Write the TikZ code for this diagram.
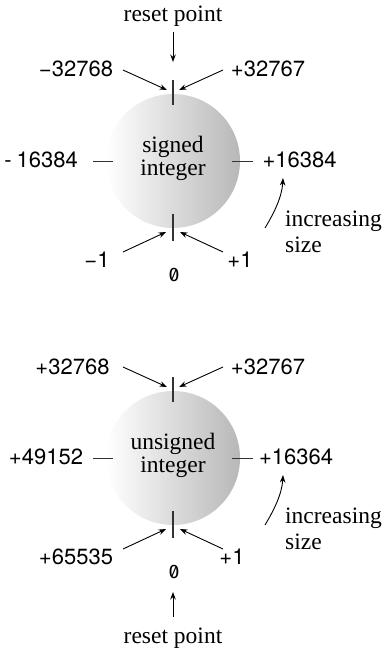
\documentclass[tikz,border=0pt]{standalone}
\usepackage{fontspec}
\setmainfont{Liberation Serif}
\setsansfont{TeX Gyre Heros}
\newfontfamily\zerofont[Numbers=SlashedZero]{Fira Sans}
\usetikzlibrary{arrows.meta}
\begin{document}
\begin{tikzpicture}[x=1pt,y=-1pt,
  lab/.style={font=\sffamily\fontsize{22}{22}\selectfont, inner sep=0pt, anchor=base},
  ser/.style={font=\rmfamily\fontsize{23.5}{23}\selectfont, inner sep=0pt, anchor=base},
  zer/.style={font=\zerofont\fontsize{19.5}{19.5}\selectfont, inner sep=0pt, anchor=base},
  arr/.style={-{Stealth[length=7.5pt,width=5.5pt]}, line width=0.9pt},
  tickline/.style={line width=1.8pt, draw=black!80},
  ball/.style={circle, minimum size=134pt, inner sep=0pt, shade, left color=white, right color=black!28}
]
\useasboundingbox (0,0) rectangle (382,650);

% ===== signed =====
\node[ball] (c1) at (173,161) {};
\node[ser] (s1a) at (173,152) {signed};
\node[ser] (s1b) at (173,175) {integer};
\node[ser] (r1) at (173,22) {reset point};
\node[lab] (a1) at (76,77) {−32768};
\node[lab] (b1) at (268,77) {+32767};
\node[lab] (l1) at (41,167) {-\hspace{5pt}16384};
\node[lab] (rt1) at (299.5,167) {+16384};
\node[lab] (m1) at (97,267) {−1};
\node[lab] (p1) at (240,267) {+1};
\node[zer] (z1) at (174,281) {0};
\node[ser, anchor=base west] (i1) at (285,226) {increasing};
\node[ser, anchor=base west] (sz1) at (285,252) {size};

\coordinate (tt1a) at (173,80);  \coordinate (tt1b) at (173,105);
\coordinate (tb1a) at (173,214); \coordinate (tb1b) at (173,241);
\coordinate (tl1a) at (93,161.5); \coordinate (tl1b) at (113,161.5);
\coordinate (tr1a) at (232,161.5); \coordinate (tr1b) at (253,161.5);
\draw[tickline] (tt1a) -- (tt1b);
\draw[tickline] (tb1a) -- (tb1b);
\draw[tickline] (tl1a) -- (tl1b);
\draw[tickline] (tr1a) -- (tr1b);

\coordinate (ra1s) at (173,32); \coordinate (ra1e) at (173,62);
\draw[arr] (ra1s) -- (ra1e);
\coordinate (q1s) at (123,70);  \coordinate (q1e) at (167,90);
\coordinate (q2s) at (223,70);  \coordinate (q2e) at (179,90);
\coordinate (q3s) at (123,252); \coordinate (q3e) at (166,232);
\coordinate (q4s) at (223,252); \coordinate (q4e) at (180,232);
\draw[arr] (q1s) -- (q1e);
\draw[arr] (q2s) -- (q2e);
\draw[arr] (q3s) -- (q3e);
\draw[arr] (q4s) -- (q4e);
\coordinate (cv1s) at (265,228); \coordinate (cv1e) at (283,178);
\draw[arr] (cv1s) .. controls (274,213) and (282,197) .. (cv1e);

% ===== unsigned =====
\node[ball] (c2) at (173,458) {};
\node[ser] (s2a) at (173,449) {unsigned};
\node[ser] (s2b) at (173,472) {integer};
\node[lab] (a2) at (72.5,374) {+32768};
\node[lab] (b2) at (268,374) {+32767};
\node[lab] (l2) at (46,464) {+49152};
\node[lab] (rt2) at (296,464) {+16364};
\node[lab] (m2) at (76,564) {+65535};
\node[lab] (p2) at (232,564) {+1};
\node[zer] (z2) at (174,578) {0};
\node[ser] (r2) at (173,643) {reset point};
\node[ser, anchor=base west] (i2) at (285,523) {increasing};
\node[ser, anchor=base west] (sz2) at (285,549) {size};

\coordinate (tt2a) at (173,377);  \coordinate (tt2b) at (173,402);
\coordinate (tb2a) at (173,511); \coordinate (tb2b) at (173,538);
\coordinate (tl2a) at (93,458.5); \coordinate (tl2b) at (113,458.5);
\coordinate (tr2a) at (232,458.5); \coordinate (tr2b) at (253,458.5);
\draw[tickline] (tt2a) -- (tt2b);
\draw[tickline] (tb2a) -- (tb2b);
\draw[tickline] (tl2a) -- (tl2b);
\draw[tickline] (tr2a) -- (tr2b);

\coordinate (ra2s) at (173,617); \coordinate (ra2e) at (173,592);
\draw[arr] (ra2s) -- (ra2e);
\coordinate (w1s) at (123,367);  \coordinate (w1e) at (167,387);
\coordinate (w2s) at (223,367);  \coordinate (w2e) at (179,387);
\coordinate (w3s) at (123,549); \coordinate (w3e) at (166,529);
\coordinate (w4s) at (223,549); \coordinate (w4e) at (180,529);
\draw[arr] (w1s) -- (w1e);
\draw[arr] (w2s) -- (w2e);
\draw[arr] (w3s) -- (w3e);
\draw[arr] (w4s) -- (w4e);
\coordinate (cv2s) at (265,525); \coordinate (cv2e) at (283,475);
\draw[arr] (cv2s) .. controls (274,510) and (282,494) .. (cv2e);
\end{tikzpicture}
\end{document}
